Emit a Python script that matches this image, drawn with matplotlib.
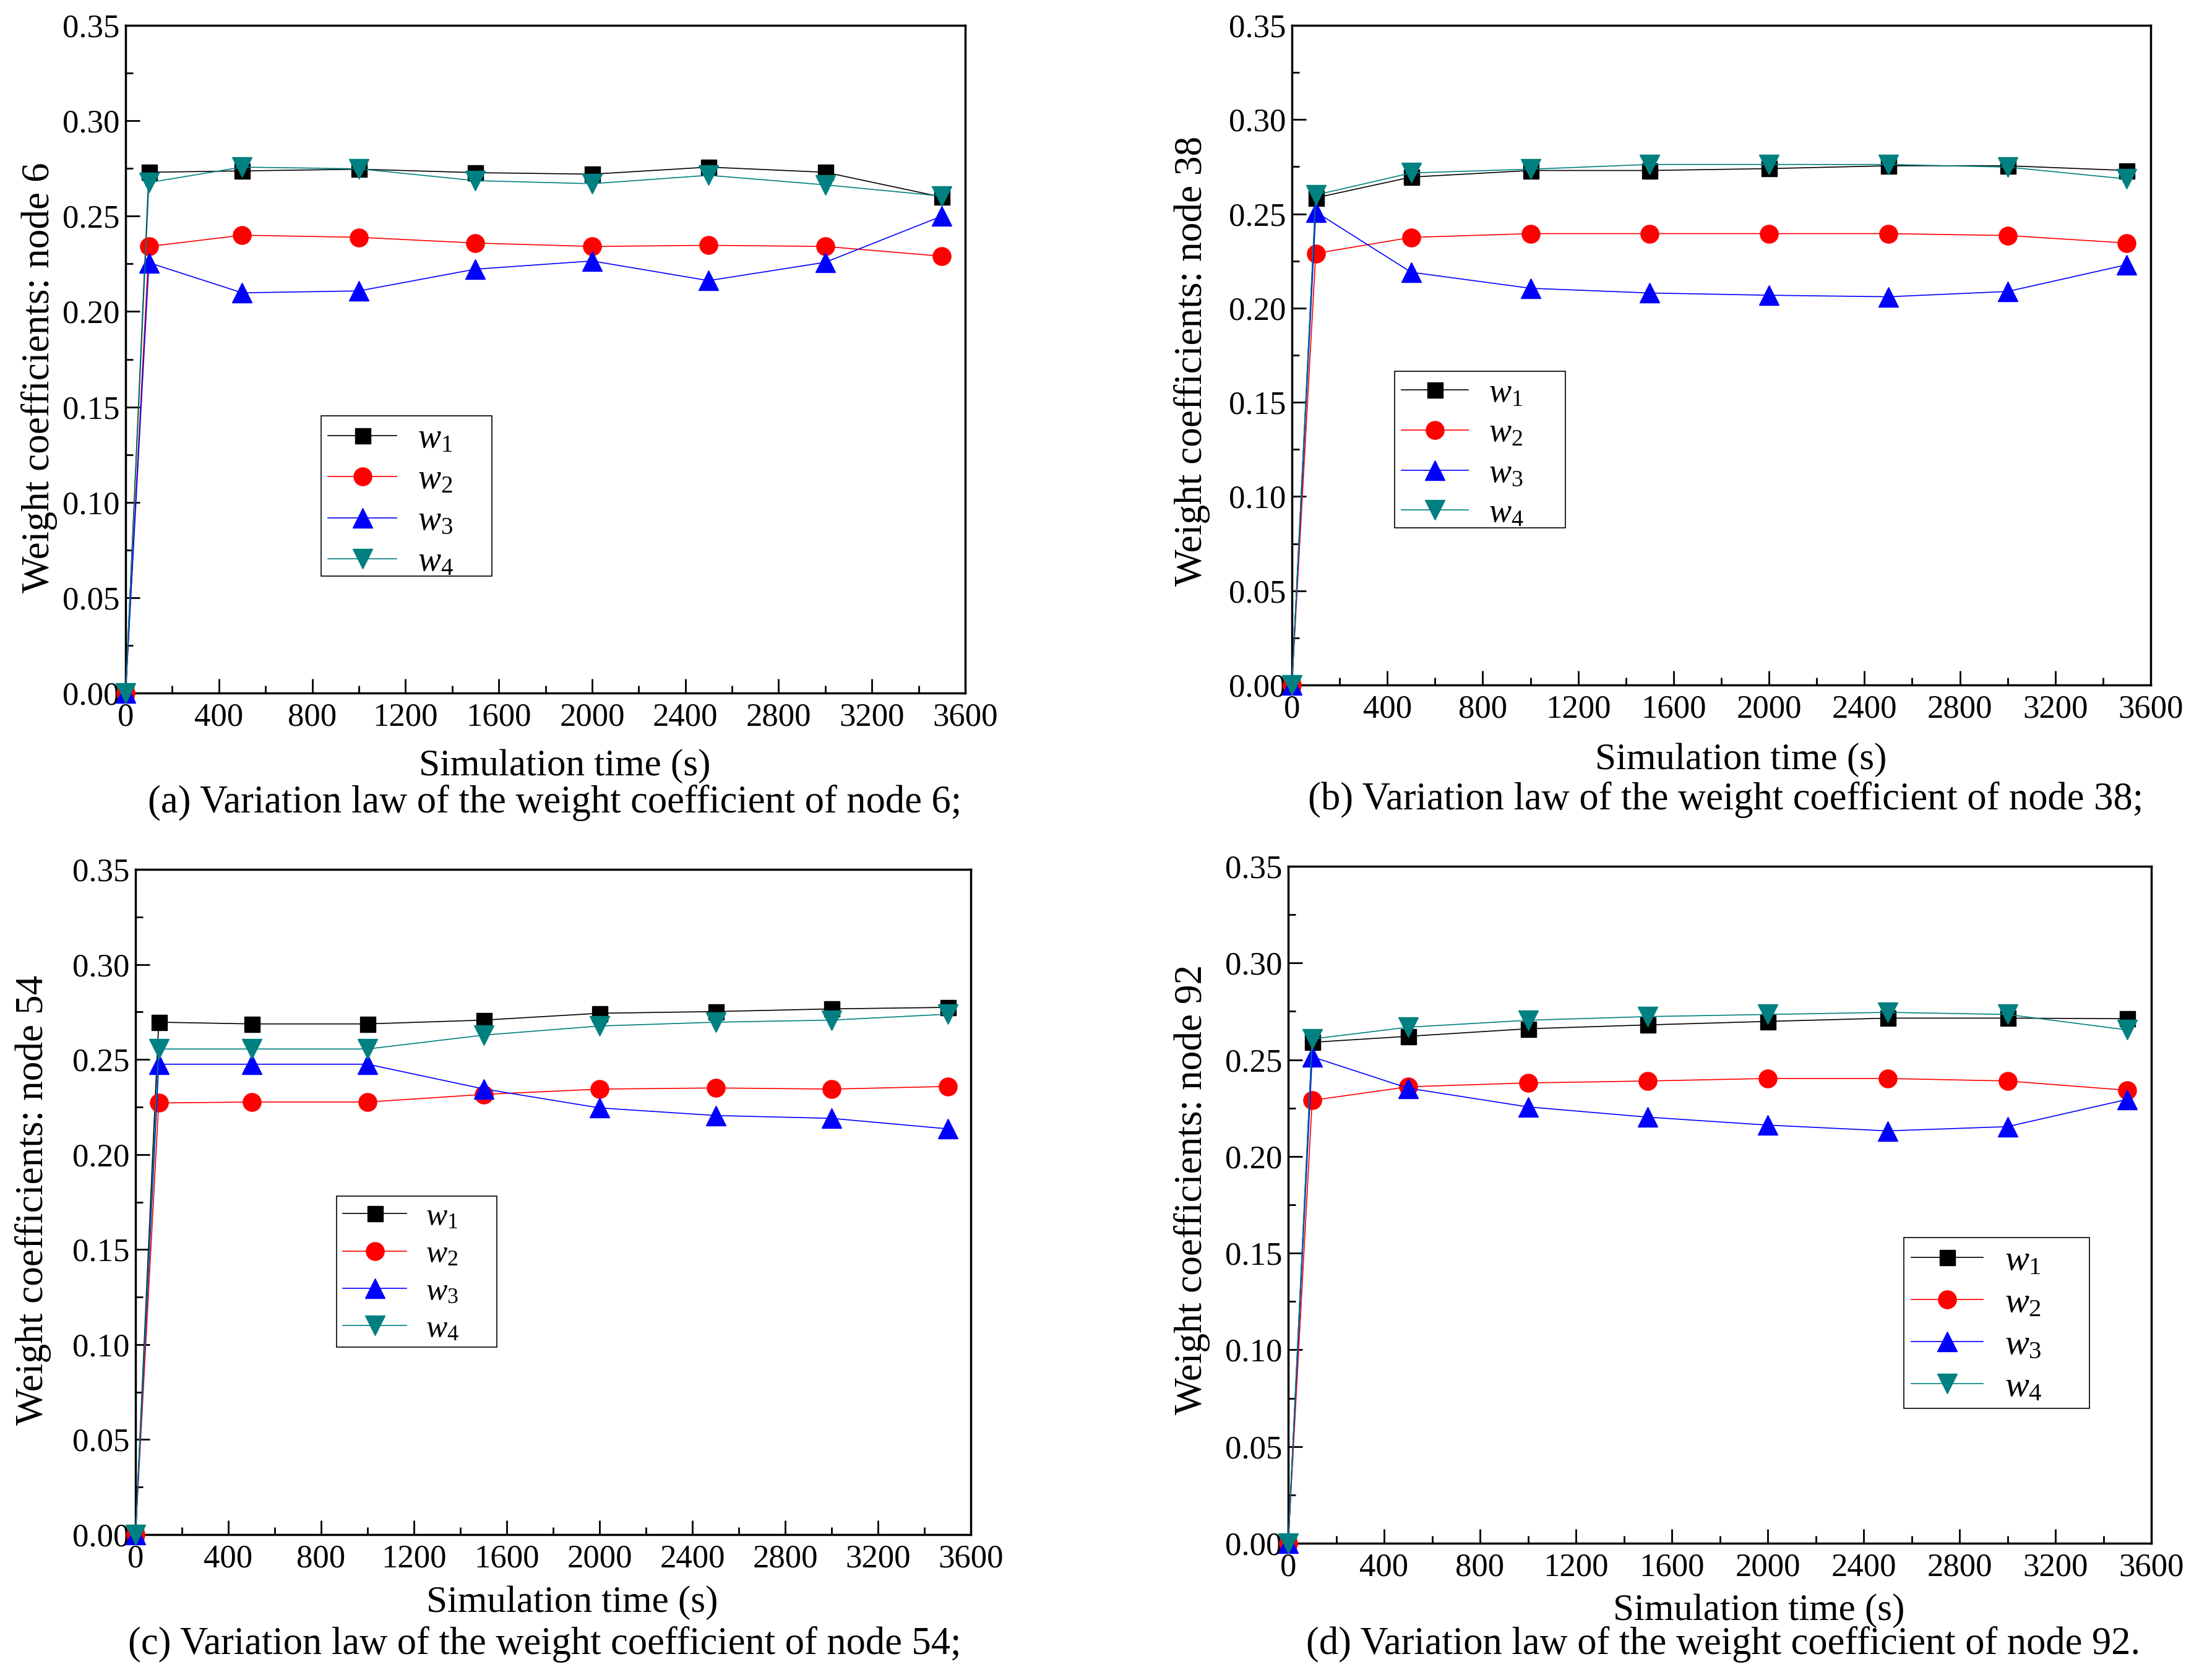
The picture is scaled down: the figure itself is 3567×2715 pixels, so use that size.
import matplotlib
matplotlib.use("Agg")
import matplotlib.pyplot as plt
from matplotlib.patches import Rectangle
from matplotlib.ticker import MultipleLocator, FormatStrFormatter

# simulation times (s)
time_s = [0, 100, 500, 1000, 1500, 2000, 2500, 3000, 3500]

# node 6
node6_w1 = [0, 0.2730, 0.2737, 0.2746, 0.2728, 0.2720, 0.2757, 0.2730, 0.2600]
node6_w2 = [0, 0.2341, 0.2400, 0.2389, 0.2359, 0.2341, 0.2347, 0.2341, 0.2290]
node6_w3 = [0, 0.2256, 0.2098, 0.2108, 0.2222, 0.2265, 0.2162, 0.2258, 0.2500]
node6_w4 = [0, 0.2676, 0.2757, 0.2748, 0.2686, 0.2670, 0.2714, 0.2664, 0.2605]

# node 38
node38_w1 = [0, 0.2585, 0.2695, 0.2730, 0.2730, 0.2740, 0.2755, 0.2755, 0.2730]
node38_w2 = [0, 0.2290, 0.2375, 0.2395, 0.2395, 0.2395, 0.2395, 0.2385, 0.2345]
node38_w3 = [0, 0.2510, 0.2190, 0.2105, 0.2080, 0.2068, 0.2060, 0.2088, 0.2230]
node38_w4 = [0, 0.2600, 0.2717, 0.2737, 0.2762, 0.2762, 0.2762, 0.2748, 0.2685]

# node 54
node54_w1 = [0, 0.2696, 0.2687, 0.2687, 0.2707, 0.2743, 0.2752, 0.2766, 0.2774]
node54_w2 = [0, 0.2271, 0.2276, 0.2276, 0.2316, 0.2344, 0.2350, 0.2344, 0.2358]
node54_w3 = [0, 0.2475, 0.2475, 0.2475, 0.2345, 0.2245, 0.2205, 0.2190, 0.2135]
node54_w4 = [0, 0.2555, 0.2555, 0.2555, 0.2628, 0.2676, 0.2696, 0.2707, 0.2738]

# node 92
node92_w1 = [0, 0.2590, 0.2621, 0.2660, 0.2680, 0.2698, 0.2715, 0.2715, 0.2712]
node92_w2 = [0, 0.2290, 0.2360, 0.2380, 0.2390, 0.2403, 0.2403, 0.2390, 0.2342]
node92_w3 = [0, 0.2515, 0.2353, 0.2256, 0.2203, 0.2162, 0.2132, 0.2154, 0.2295]
node92_w4 = [0, 0.2607, 0.2668, 0.2704, 0.2723, 0.2734, 0.2745, 0.2734, 0.2654]

series_labels = [r'$w_1$', r'$w_2$', r'$w_3$', r'$w_4$']
node_names = ['6', '38', '54', '92']
captions = ['(a) Variation law of the weight coefficient of node 6;',
            '(b) Variation law of the weight coefficient of node 38;',
            '(c) Variation law of the weight coefficient of node 54;',
            '(d) Variation law of the weight coefficient of node 92.']

plt.rcParams['font.family'] = ['Liberation Serif', 'DejaVu Serif']
plt.rcParams['mathtext.fontset'] = 'custom'
plt.rcParams['mathtext.rm'] = 'Liberation Serif'
plt.rcParams['mathtext.it'] = 'Liberation Serif:italic'

W, H = 3567, 2715
fig = plt.figure(figsize=(W / 100, H / 100), dpi=100)

def fx(x):
    return x / W

def fy(y):
    return 1 - y / H

styles = [('s', 'black', 18), ('o', 'red', 21), ('^', 'blue', 23), ('v', '#008080', 23)]

# pixel layout: axes box (l, t, r, b), legend box, ylabel centre, xlabel/caption centre+baseline
panels = [
    dict(data=[node6_w1, node6_w2, node6_w3, node6_w4], box=(203, 41, 1560, 1120),
         leg=(519, 672, 795, 931), legfs=40, ylab=(64, 610), xlab=(913, 1253), cap=(897, 1313)),
    dict(data=[node38_w1, node38_w2, node38_w3, node38_w4], box=(2088, 41, 3476, 1107),
         leg=(2254, 600, 2530, 853), legfs=39, ylab=(1926, 583), xlab=(2814, 1243), cap=(2789, 1308)),
    dict(data=[node54_w1, node54_w2, node54_w3, node54_w4], box=(219, 1405, 1569, 2480),
         leg=(544, 1933, 803, 2177), legfs=37, ylab=(54, 1939), xlab=(925, 2605), cap=(880, 2673)),
    dict(data=[node92_w1, node92_w2, node92_w3, node92_w4], box=(2082, 1400, 3477, 2494),
         leg=(3077, 2000, 3377, 2276), legfs=42, ylab=(1927, 1922), xlab=(2843, 2618), cap=(2785, 2673)),
]

for i, p in enumerate(panels):
    l, t, r, b = p['box']
    ax = fig.add_axes([fx(l), fy(b), (r - l) / W, (b - t) / H])
    for vals, lab, (mk, col, ms) in zip(p['data'], series_labels, styles):
        ax.plot(time_s, vals, color=col, lw=1.2, marker=mk, ms=ms, mec=col, mfc=col,
                label=lab, clip_on=False, zorder=3)
    ax.set_xlim(0, 3600)
    ax.set_ylim(0, 0.35)
    ax.xaxis.set_major_locator(MultipleLocator(400))
    ax.xaxis.set_minor_locator(MultipleLocator(200))
    ax.yaxis.set_major_locator(MultipleLocator(0.05))
    ax.yaxis.set_minor_locator(MultipleLocator(0.025))
    ax.yaxis.set_major_formatter(FormatStrFormatter('%.2f'))
    ax.tick_params(which='both', direction='in', top=False, right=False, width=2)
    ax.tick_params(which='major', length=16.5, labelsize=38)
    ax.tick_params(axis='x', which='major', pad=11)
    ax.tick_params(axis='y', which='major', pad=7)
    ax.tick_params(which='minor', length=8.5)
    for sp in ax.spines.values():
        sp.set_linewidth(2.5)
    ax.xaxis.get_major_ticks()[0].label1.set_horizontalalignment('left')

    # legend: entries without frame, thin square box drawn around them
    ll, lt, lr, lb = p['leg']
    ax.legend(loc='upper left', bbox_to_anchor=(fx(ll), fy(lt)),
              bbox_transform=fig.transFigure, fontsize=p['legfs'], frameon=False,
              handlelength=2.0, handletextpad=0.6, labelspacing=0.26,
              borderpad=0.2, borderaxespad=0)
    fig.patches.append(Rectangle((fx(ll), fy(lb)), (lr - ll) / W, (lb - lt) / H,
                                 transform=fig.transFigure, fill=False,
                                 edgecolor='black', linewidth=1.2, zorder=5))

    fig.text(fx(p['ylab'][0]), fy(p['ylab'][1]), 'Weight coefficients: node ' + node_names[i],
             rotation=90, ha='center', va='center', fontsize=45.5)
    fig.text(fx(p['xlab'][0]), fy(p['xlab'][1]), 'Simulation time (s)',
             ha='center', va='baseline', fontsize=44)
    fig.text(fx(p['cap'][0]), fy(p['cap'][1]), captions[i],
             ha='center', va='baseline', fontsize=45)

fig.savefig('out.png', dpi=100, facecolor='white')
